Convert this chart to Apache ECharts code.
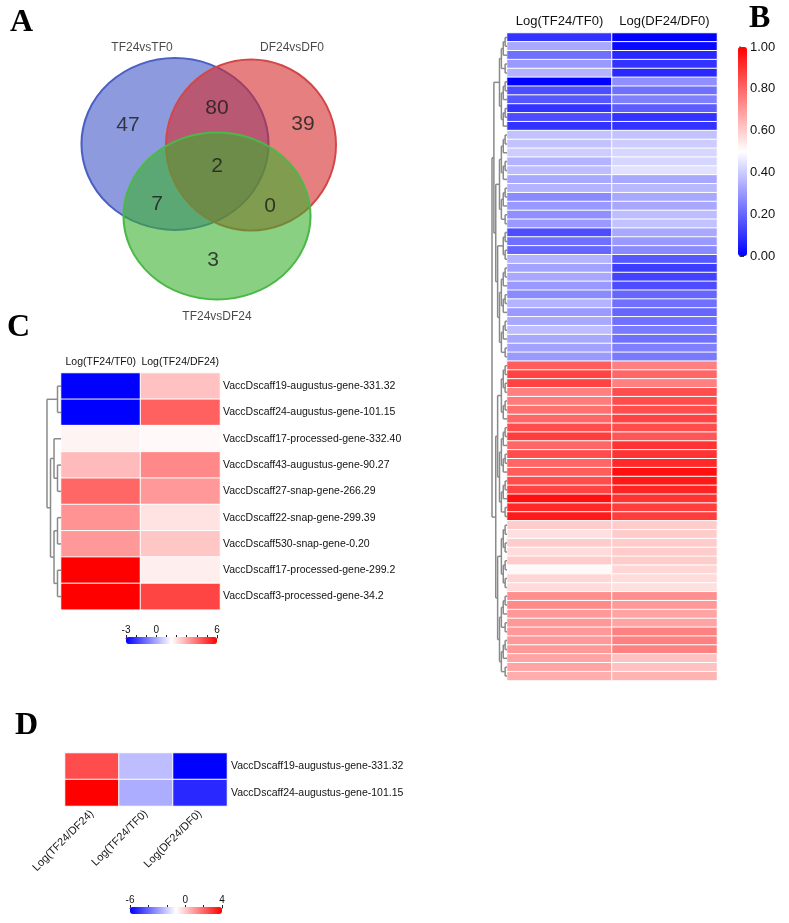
<!DOCTYPE html>
<html>
<head>
<meta charset="utf-8">
<script src="https://cdn.jsdelivr.net/npm/echarts@6/dist/echarts.min.js"></script>
<style>
  html,body{margin:0;padding:0;background:#fff;}
  #main{width:789px;height:923px;}
</style>
</head>
<body>
<div id="main"></div>
<script>
// ---------- A: venn ----------
let vennSets = ['TF24vsTF0', 'DF24vsDF0', 'TF24vsDF24']
// regions: TF only, TF&DF, DF only, all three, TF&TD, DF&TD, TD only
let vennCounts = [47, 80, 39, 2, 7, 0, 3]

// ---------- B ----------
let colsB = ['Log(TF24/TF0)', 'Log(DF24/DF0)']
let tfB = [0.10,0.33,0.22,0.30,0.35, 0.00,0.15,0.17,0.10,0.15,0.10,
  0.38,0.38,0.40,0.35,0.37,0.33,0.35,0.27,0.30,0.28,0.30,0.15,0.22,0.20,
  0.35,0.32,0.33,0.30,0.27,0.35,0.30,0.33,0.37,0.33,0.32,0.30,
  0.82,0.87,0.87,0.75,0.76,0.78,0.80,0.85,0.88,0.80,0.85,0.80,0.82,0.85,0.87,0.97,0.92,0.95,
  0.60,0.56,0.60,0.57,0.60,0.51,0.58,0.57,
  0.72,0.73,0.70,0.70,0.70,0.70,0.70,0.68,0.68,0.66]
let dfB = [0.00,0.02,0.08,0.10,0.08, 0.28,0.22,0.25,0.18,0.10,0.10,
  0.38,0.40,0.42,0.42,0.44,0.33,0.36,0.33,0.33,0.37,0.38,0.33,0.30,0.27,
  0.17,0.12,0.13,0.15,0.20,0.22,0.20,0.22,0.24,0.22,0.25,0.24,
  0.75,0.80,0.75,0.85,0.85,0.85,0.87,0.85,0.83,0.90,0.90,0.92,0.97,0.95,0.93,0.90,0.88,0.88,
  0.60,0.60,0.60,0.60,0.60,0.58,0.57,0.56,
  0.72,0.70,0.68,0.68,0.75,0.75,0.75,0.62,0.62,0.65]
let treeB = [[['0-4', '5-10'], ['11-21', ['22-25', '26-36']]], [['37-43', '44-54'], ['55-62', '63-72']]]

// ---------- C ----------
let colsC = ['Log(TF24/TF0)', 'Log(TF24/DF24)']
let genesC = ['VaccDscaff19-augustus-gene-331.32', 'VaccDscaff24-augustus-gene-101.15',
  'VaccDscaff17-processed-gene-332.40', 'VaccDscaff43-augustus-gene-90.27',
  'VaccDscaff27-snap-gene-266.29', 'VaccDscaff22-snap-gene-299.39',
  'VaccDscaff530-snap-gene-0.20', 'VaccDscaff17-processed-gene-299.2',
  'VaccDscaff3-processed-gene-34.2']
let tfC = [-3, -3, 1.7, 2.7, 4.2, 3.4, 3.3, 6, 6]
let tdC = [2.6, 4.3, 1.6, 3.6, 3.3, 2.0, 2.5, 1.8, 4.8]
let treeC = [[0, 1], [[2, [3, 4]], [[5, 6], [7, 8]]]]

// ---------- D ----------
let colsD = ['Log(TF24/DF24)', 'Log(TF24/TF0)', 'Log(DF24/DF0)']
let genesD = ['VaccDscaff19-augustus-gene-331.32', 'VaccDscaff24-augustus-gene-101.15']
let valsD = [[2.5, -2.3, -6], [4, -2.6, -5.2]]

let font = 'Liberation Sans, Arial, sans-serif'
let bwr = ['#0000ff', '#ffffff', '#ff0000']

function expandRange(a, b) {
  if (a === b) return a
  if (b === a + 1) return [a, b]
  let m = Math.floor((a + b) / 2)
  return [expandRange(a, m), expandRange(m + 1, b)]
}
function expand(node) {
  if (typeof node === 'string') {
    let p = node.split('-')
    return expandRange(+p[0], +p[1])
  }
  if (Array.isArray(node)) return node.map(expand)
  return node
}
// dendrogram segments [x1,y1,x2,y2], x = merge height, y = row index
function dendro(node, segs) {
  if (!Array.isArray(node)) return {y: node, h: 0}
  let kids = node.map(k => dendro(k, segs))
  let h = 1 + Math.max(...kids.map(k => k.h))
  let ys = kids.map(k => k.y)
  kids.forEach(k => segs.push([k.h, k.y, h, k.y]))
  segs.push([h, Math.min(...ys), h, Math.max(...ys)])
  return {y: (Math.min(...ys) + Math.max(...ys)) / 2, h: h}
}
function dendroData(tree) {
  let segs = []
  let root = dendro(expand(tree), segs)
  return {segs: segs, h: root.h}
}
function renderSeg(params, api) {
  let p1 = api.coord([api.value(0), api.value(1)])
  let p2 = api.coord([api.value(2), api.value(3)])
  return {type: 'line', shape: {x1: p1[0], y1: p1[1], x2: p2[0], y2: p2[1]},
    style: {stroke: '#8a8a8a', lineWidth: 1.5}}
}

let dB = dendroData(treeB)
let dC = dendroData(treeC)
let nB = tfB.length
let rowH = 8.87

let heatB = []
for (let i = 0; i < nB; i++) { heatB.push([0, i, tfB[i]]); heatB.push([1, i, dfB[i]]) }
let heatC = []
for (let i = 0; i < genesC.length; i++) { heatC.push([0, i, tfC[i]]); heatC.push([1, i, tdC[i]]) }
let heatD = []
for (let i = 0; i < genesD.length; i++) for (let j = 0; j < colsD.length; j++) heatD.push([j, i, valsD[i][j]])

// venn layout (pixel units of the venn grid)
let circles = [
  {c: [175, 144], s: [187, 172], fill: 'rgba(65,88,200,0.6)', line: '#4b5fc4'},
  {c: [251, 145], s: [170, 171], fill: 'rgba(213,43,43,0.6)', line: '#d24848'},
  {c: [217, 216], s: [187, 167], fill: 'rgba(60,177,47,0.6)', line: '#4cb848'}
]
let countPos = [[128, 125], [217, 108], [303, 124], [217, 166], [157, 204], [270, 206], [213, 260]]
let setPos = [[142, 48], [292, 48], [217, 317]]

let chart = echarts.init(document.getElementById('main'))
let hideAxis = {show: false}
let option = {
  animation: false,
  textStyle: {fontFamily: font},
  title: [
    {text: 'A', left: 5, top: 2},
    {text: 'B', left: 744, top: -2},
    {text: 'C', left: 2, top: 307},
    {text: 'D', left: 10, top: 705}
  ].map(t => Object.assign(t, {textStyle: {fontFamily: 'Liberation Serif, Times New Roman, serif', fontSize: 32, fontWeight: 'bold', color: '#000'}})),
  grid: [
    {left: 0, top: 0, width: 400, height: 340},                              // 0 venn
    {left: 492, top: 33, width: 15, height: nB * rowH},                        // 1 B dendro
    {left: 507, top: 33, width: 210, height: nB * rowH},                       // 2 B heat
    {left: 740, top: 47, width: 7, height: 209},                               // 3 B bar axis
    {left: 47, top: 373, width: 14, height: 9 * 26.3},                         // 4 C dendro
    {left: 61, top: 373, width: 159, height: 9 * 26.3},                        // 5 C heat
    {left: 126, top: 637, width: 91, height: 1},                               // 6 C bar axis
    {left: 65, top: 753, width: 162, height: 53},                              // 7 D heat
    {left: 130, top: 907, width: 92, height: 1}                                // 8 D bar axis
  ],
  xAxis: [
    {gridIndex: 0, type: 'value', min: 0, max: 400, show: false},
    {gridIndex: 1, type: 'value', min: 0, max: dB.h, inverse: true, show: false},
    {gridIndex: 2, type: 'category', data: colsB, position: 'top',
      axisLine: hideAxis, axisTick: hideAxis,
      axisLabel: {interval: 0, hideOverlap: false, fontSize: 13, color: '#111', margin: 5}},
    {gridIndex: 3, type: 'value', show: false},
    {gridIndex: 4, type: 'value', min: 0, max: dC.h, inverse: true, show: false},
    {gridIndex: 5, type: 'category', data: colsC, position: 'top',
      axisLine: hideAxis, axisTick: hideAxis,
      axisLabel: {interval: 0, hideOverlap: false, fontSize: 10.5, color: '#111', margin: 5}},
    {gridIndex: 6, type: 'value', min: -3, max: 6, interval: 1, position: 'top',
      axisLine: {lineStyle: {color: '#222', width: 1}},
      axisTick: {length: 3, lineStyle: {color: '#222'}}, splitLine: hideAxis,
      axisLabel: {fontSize: 10, color: '#111', margin: 2,
        formatter: v => ([-3, 0, 6].indexOf(v) >= 0 ? String(v) : '')}},
    {gridIndex: 7, type: 'category', data: colsD, position: 'bottom',
      axisLine: hideAxis, axisTick: hideAxis,
      axisLabel: {interval: 0, hideOverlap: false, fontSize: 11, color: '#111', rotate: 45, margin: 6}},
    {gridIndex: 8, type: 'value', min: -6, max: 4, interval: 2, position: 'top',
      axisLine: {lineStyle: {color: '#222', width: 1}},
      axisTick: {length: 3, lineStyle: {color: '#222'}}, splitLine: hideAxis,
      axisLabel: {fontSize: 10, color: '#111', margin: 2,
        formatter: v => ([-6, 0, 4].indexOf(v) >= 0 ? String(v) : '')}}
  ],
  yAxis: [
    {gridIndex: 0, type: 'value', min: 0, max: 340, inverse: true, show: false},
    {gridIndex: 1, type: 'value', min: -0.5, max: nB - 0.5, inverse: true, show: false},
    {gridIndex: 2, type: 'category', data: tfB.map((v, i) => 'r' + i), inverse: true, show: false},
    {gridIndex: 3, type: 'value', min: 0, max: 1, interval: 0.2, position: 'right',
      axisLine: {show: true, lineStyle: {color: '#333', width: 1.5}},
      axisTick: {show: true, length: 4, lineStyle: {color: '#333'}}, splitLine: hideAxis,
      axisLabel: {fontSize: 13, color: '#111', margin: 3, formatter: v => v.toFixed(2)}},
    {gridIndex: 4, type: 'value', min: -0.5, max: genesC.length - 0.5, inverse: true, show: false},
    {gridIndex: 5, type: 'category', data: genesC, inverse: true, position: 'right',
      axisLine: hideAxis, axisTick: hideAxis,
      axisLabel: {interval: 0, fontSize: 10.5, color: '#111', margin: 3}},
    {gridIndex: 6, type: 'value', show: false},
    {gridIndex: 7, type: 'category', data: genesD, inverse: true, position: 'right',
      axisLine: hideAxis, axisTick: hideAxis,
      axisLabel: {interval: 0, fontSize: 10.5, color: '#111', margin: 4}},
    {gridIndex: 8, type: 'value', show: false}
  ],
  visualMap: [
    {type: 'continuous', seriesIndex: 5, min: 0, max: 1, inRange: {color: bwr},
      orient: 'vertical', left: 738, top: 47, itemWidth: 9, itemHeight: 209,
      calculable: false, padding: 0, hoverLink: false},
    {type: 'continuous', seriesIndex: 7, min: -3, max: 6, inRange: {color: bwr},
      orient: 'horizontal', left: 126, top: 637, itemWidth: 7, itemHeight: 91,
      calculable: false, padding: 0, hoverLink: false},
    {type: 'continuous', seriesIndex: 8, min: -6, max: 4, inRange: {color: bwr},
      orient: 'horizontal', left: 130, top: 907, itemWidth: 7, itemHeight: 92,
      calculable: false, padding: 0, hoverLink: false}
  ],
  series: [
    // venn circles
    ...circles.map(c => ({
      type: 'scatter', xAxisIndex: 0, yAxisIndex: 0, silent: true,
      symbol: 'circle', symbolSize: c.s, data: [c.c],
      itemStyle: {color: c.fill, borderColor: c.line, borderWidth: 2, opacity: 1}
    })),
    {type: 'scatter', xAxisIndex: 0, yAxisIndex: 0, symbolSize: 0, silent: true,
      data: vennCounts.map((v, i) => [countPos[i][0], countPos[i][1], v]),
      label: {show: true, position: 'inside', formatter: p => p.value[2], fontSize: 21, color: '#1a1a1a'}},
    {type: 'scatter', xAxisIndex: 0, yAxisIndex: 0, symbolSize: 0, silent: true,
      data: vennSets.map((v, i) => [setPos[i][0], setPos[i][1], v]),
      label: {show: true, position: 'inside', formatter: p => p.value[2], fontSize: 12, color: '#1a1a1a'}},
    // B
    {type: 'heatmap', xAxisIndex: 2, yAxisIndex: 2, data: heatB,
      itemStyle: {borderColor: '#fff', borderWidth: 1}},
    {type: 'custom', xAxisIndex: 1, yAxisIndex: 1, renderItem: renderSeg, data: dB.segs, silent: true},
    // C
    {type: 'heatmap', xAxisIndex: 5, yAxisIndex: 5, data: heatC,
      itemStyle: {borderColor: '#fff', borderWidth: 1}},
    // D
    {type: 'heatmap', xAxisIndex: 7, yAxisIndex: 7, data: heatD,
      itemStyle: {borderColor: '#fff', borderWidth: 1}},
    {type: 'custom', xAxisIndex: 4, yAxisIndex: 4, renderItem: renderSeg, data: dC.segs, silent: true}
  ]
}
chart.setOption(option)
</script>
</body>
</html>
